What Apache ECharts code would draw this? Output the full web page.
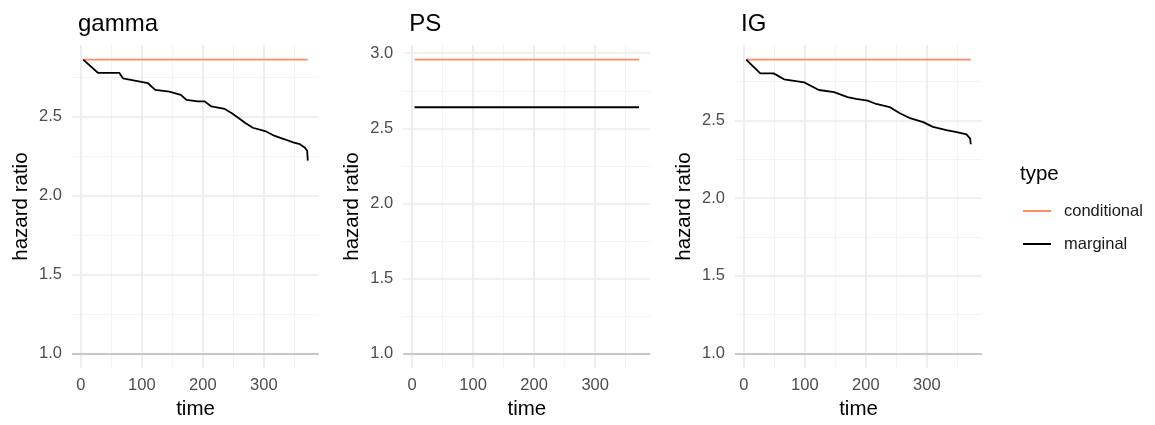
<!DOCTYPE html>
<html><head><meta charset="utf-8">
<script src="https://cdn.jsdelivr.net/npm/echarts@6/dist/echarts.min.js"></script>
<style>html,body{margin:0;padding:0;background:#fff}#c{width:1155px;height:425px}</style>
</head><body><div id="c"></div>
<script>
// ---- data ----
const panelTitles = ['gamma', 'PS', 'IG'];
const typeNames = ['conditional', 'marginal'];
const timeRange = [4, 372];
const condValues = [2.86, 2.957, 2.89];          // gamma, PS, IG
const psMargValue = 2.64;
const gammaMargTime  = [4, 28, 63, 69, 110, 122, 145, 164, 173, 192, 203, 214, 236, 247, 258, 269, 282, 302, 318, 334, 348, 359, 367, 371, 372];
const gammaMargValue = [2.86, 2.777, 2.777, 2.742, 2.711, 2.669, 2.658, 2.637, 2.606, 2.596, 2.596, 2.564, 2.548, 2.523, 2.492, 2.461, 2.429, 2.408, 2.377, 2.356, 2.336, 2.325, 2.304, 2.283, 2.221];
const igMargTime  = [4, 27, 49, 66, 99, 123, 148, 170, 184, 203, 217, 239, 255, 271, 294, 310, 332, 349, 365, 371, 372];
const igMargValue = [2.89, 2.802, 2.802, 2.764, 2.744, 2.695, 2.681, 2.649, 2.638, 2.627, 2.605, 2.585, 2.547, 2.516, 2.488, 2.458, 2.437, 2.424, 2.409, 2.382, 2.346];
const refLineValue = 1;
const xTicks = [0, 100, 200, 300];
const xMinorTicks = [50, 150, 250, 350];
const yTicksPanels = [[1.0, 1.5, 2.0, 2.5], [1.0, 1.5, 2.0, 2.5, 3.0], [1.0, 1.5, 2.0, 2.5]];
const yMinorPanels = [[1.25, 1.75, 2.25, 2.75], [1.25, 1.75, 2.25, 2.75], [1.25, 1.75, 2.25, 2.75]];
const legendTitle = 'type';

// ---- styles / layout ----
const FONT = 'Liberation Sans, Arial, Helvetica, sans-serif';
const COLORS = {conditional: '#FC8D62', marginal: '#000000'};
const gridLefts = [72, 403.3, 735];
const gridWidth = 247;
const gridTop = 45, gridHeight = 327;

function expand(lo, hi) { const d = (hi - lo) * 0.05; return [lo - d, hi + d]; }
const xExt = expand(timeRange[0], timeRange[1]);

function zip(a, b) { return a.map((v, i) => [v, b[i]]); }
const margData = [
  zip(gammaMargTime, gammaMargValue),
  [[timeRange[0], psMargValue], [timeRange[1], psMargValue]],
  zip(igMargTime, igMargValue)
];
const condData = condValues.map(v => [[timeRange[0], v], [timeRange[1], v]]);

const grids = [], xAxes = [], yAxes = [], series = [], titles = [];
for (let i = 0; i < 3; i++) {
  grids.push({left: gridLefts[i], top: gridTop, width: gridWidth, height: gridHeight, containLabel: false});
  const allY = margData[i].map(p => p[1]).concat([condValues[i], refLineValue]);
  const yExt = expand(Math.min(...allY), Math.max(...allY));
  xAxes.push({
    type: 'value', gridIndex: i, min: xExt[0], max: xExt[1],
    name: 'time', nameLocation: 'middle', nameGap: 30,
    nameTextStyle: {fontFamily: FONT, fontSize: 20.5, color: '#000'},
    axisLine: {show: false}, axisTick: {show: false}, splitLine: {show: false},
    axisLabel: {customValues: xTicks, fontFamily: FONT, fontSize: 16.5, color: '#4d4d4d', margin: 9}
  });
  yAxes.push({
    type: 'value', gridIndex: i, min: yExt[0], max: yExt[1],
    name: 'hazard ratio', nameLocation: 'middle', nameGap: 40,
    nameTextStyle: {fontFamily: FONT, fontSize: 20.5, color: '#000'},
    axisLine: {show: false}, axisTick: {show: false}, splitLine: {show: false},
    axisLabel: {customValues: yTicksPanels[i], formatter: v => v.toFixed(1), fontFamily: FONT, fontSize: 16.5, color: '#4d4d4d', margin: 10}
  });
  const major = {color: '#ebebeb', width: 1.7, type: 'solid'};
  const minor = {color: '#f2f2f2', width: 0.9, type: 'solid'};
  const mlData = []
    .concat(yMinorPanels[i].map(v => ({yAxis: v, lineStyle: minor})))
    .concat(xMinorTicks.map(v => ({xAxis: v, lineStyle: minor})))
    .concat(yTicksPanels[i].map(v => ({yAxis: v, lineStyle: major})))
    .concat(xTicks.map(v => ({xAxis: v, lineStyle: major})))
    .concat([{yAxis: refLineValue, lineStyle: {color: '#bababa', width: 1.7, type: 'solid'}}]);
  series.push({
    type: 'line', name: 'ref' + i, xAxisIndex: i, yAxisIndex: i, z: 1,
    data: [[timeRange[0], refLineValue], [timeRange[1], refLineValue]],
    showSymbol: false, lineStyle: {width: 0, opacity: 0}, silent: true, legendHoverLink: false,
    markLine: {z: 1, zlevel: 0, symbol: ['none', 'none'], silent: true, animation: false, label: {show: false}, emphasis: {disabled: true}, data: mlData}
  });
  series.push({
    type: 'line', name: typeNames[0], xAxisIndex: i, yAxisIndex: i, z: 6,
    data: condData[i], showSymbol: false, lineStyle: {color: COLORS.conditional, width: 1.8}, itemStyle: {color: COLORS.conditional}
  });
  series.push({
    type: 'line', name: typeNames[1], xAxisIndex: i, yAxisIndex: i, z: 7,
    data: margData[i], showSymbol: false, lineStyle: {color: COLORS.marginal, width: 1.8}, itemStyle: {color: COLORS.marginal}
  });
  titles.push({text: panelTitles[i], left: gridLefts[i] + 1, top: 7,
    textStyle: {fontFamily: FONT, fontSize: 24, fontWeight: 'normal', color: '#000', lineHeight: 24}});
}
titles.push({text: legendTitle, left: 1015, top: 158,
  textStyle: {fontFamily: FONT, fontSize: 20.5, fontWeight: 'normal', color: '#000', lineHeight: 22}});

const chart = echarts.init(document.getElementById('c'), null, {renderer: 'canvas'});
chart.setOption({
  animation: false,
  backgroundColor: '#fff',
  title: titles,
  grid: grids, xAxis: xAxes, yAxis: yAxes, series: series,
  legend: {
    data: typeNames, orient: 'vertical', left: 1018, top: 197,
    icon: 'rect', itemWidth: 28, itemHeight: 2, itemGap: 15,
    textStyle: {fontFamily: FONT, fontSize: 16.5, color: '#1a1a1a', lineHeight: 18, padding: [0, 0, 0, 8]},
    selectedMode: false
  }
});
</script></body></html>
